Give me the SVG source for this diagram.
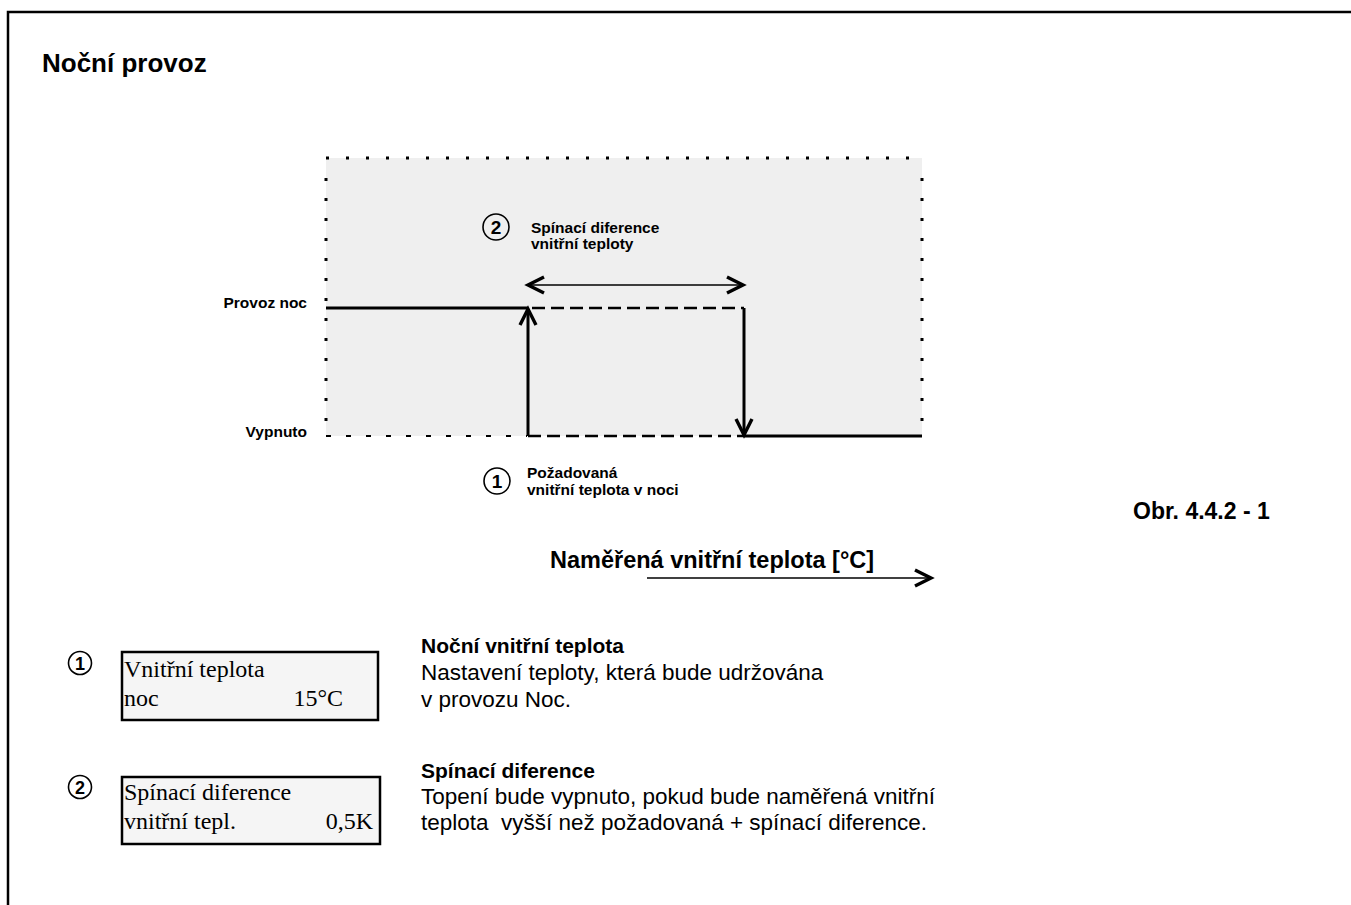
<svg xmlns="http://www.w3.org/2000/svg" width="1351" height="905" viewBox="0 0 1351 905">
  <style>
    .sans { font-family: "Liberation Sans", Arial, sans-serif; fill: #000; }
    .bold { font-weight: bold; }
    .serif { font-family: "Liberation Serif", "Times New Roman", serif; font-size: 24px; fill: #000; }
    .lbl { font-size: 15.5px; }
    .head { font-size: 21px; }
    .desc { font-size: 22.5px; }
    .num { font-family: "Liberation Sans", Arial, sans-serif; font-weight: bold; text-anchor: middle; fill: #000; }
    .ring { fill: none; stroke: #000; stroke-width: 1.6; }
    .dots { stroke: #000; stroke-width: 3; stroke-dasharray: 3 17; fill: none; }
    .box { fill: #f5f5f5; stroke: #000; stroke-width: 2.5; }
    .solid { stroke: #000; stroke-width: 3; fill: none; }
    .dash { stroke: #000; stroke-width: 2.5; stroke-dasharray: 13 6; fill: none; }
    .thin { stroke: #000; stroke-width: 1.5; fill: none; }
  </style>
  <defs>
    <marker id="head" markerUnits="userSpaceOnUse" viewBox="-22 -12 26 24" refX="0" refY="0" markerWidth="26" markerHeight="24" orient="auto-start-reverse">
      <path d="M-16,-8 L0,0 L-16,8" fill="none" stroke="#000" stroke-width="3.4"/>
    </marker>
  </defs>

  <!-- page frame -->
  <path d="M8,905 V12 H1351" fill="none" stroke="#000" stroke-width="2.5"/>

  <text class="sans bold" x="42" y="72" font-size="26">Noční provoz</text>

  <!-- switching chart -->
  <g id="chart">
    <rect x="326" y="158" width="596" height="278" fill="#efefef"/>
    <path class="dots" d="M326,158 H924"/>
    <path class="dots" d="M326,178 V436"/>
    <path class="dots" d="M922,178 V436"/>
    <path d="M326,436 H527" stroke="#000" stroke-width="2" stroke-dasharray="5 15" fill="none"/>
  </g>

  <g id="axis-labels">
    <text class="sans bold lbl" x="307" y="308" text-anchor="end">Provoz noc</text>
    <text class="sans bold lbl" x="307" y="437" text-anchor="end">Vypnuto</text>
  </g>

  <g id="connectors">
    <path class="solid" d="M326,308 H528"/>
    <path class="dash" d="M532,308 H744"/>
    <path class="dash" d="M528,436 H744"/>
    <path class="solid" d="M744,436 H922"/>
    <path class="solid" d="M528,436 V309" marker-end="url(#head)"/>
    <path class="solid" d="M744,308 V435" marker-end="url(#head)"/>
    <path class="thin" d="M528,285 H743" marker-start="url(#head)" marker-end="url(#head)"/>
    <path class="thin" d="M647,578 H931" marker-end="url(#head)"/>
  </g>

  <g id="label-hysteresis">
    <circle class="ring" cx="496" cy="227" r="13"/>
    <text class="num" x="496" y="234" font-size="19">2</text>
    <text class="sans bold lbl" x="531" y="233">Spínací diference</text>
    <text class="sans bold lbl" x="531" y="249">vnitřní teploty</text>
  </g>

  <g id="label-setpoint">
    <circle class="ring" cx="497" cy="481" r="13"/>
    <text class="num" x="497" y="488" font-size="19">1</text>
    <text class="sans bold lbl" x="527" y="478">Požadovaná</text>
    <text class="sans bold lbl" x="527" y="495">vnitřní teplota v noci</text>
  </g>

  <text id="fig-no" class="sans bold" x="1133" y="519" font-size="23">Obr. 4.4.2 - 1</text>
  <text id="x-axis" class="sans bold" x="550" y="568" font-size="23.5">Naměřená vnitřní teplota [°C]</text>

  <!-- display parameter 1 -->
  <g id="param-1">
    <circle class="ring" cx="80" cy="663" r="11.5"/>
    <text class="num" x="80" y="669.5" font-size="18">1</text>
    <rect class="box" x="122" y="652" width="256" height="68"/>
    <text class="serif" x="124" y="677">Vnitřní teplota</text>
    <text class="serif" x="124" y="706">noc</text>
    <text class="serif" x="343" y="706" text-anchor="end">15°C</text>
  </g>

  <!-- display parameter 2 -->
  <g id="param-2">
    <circle class="ring" cx="80" cy="787" r="11.5"/>
    <text class="num" x="80" y="793.5" font-size="18">2</text>
    <rect class="box" x="122" y="777" width="258" height="67"/>
    <text class="serif" x="124" y="800">Spínací diference</text>
    <text class="serif" x="124" y="829">vnitřní tepl.</text>
    <text class="serif" x="373" y="829" text-anchor="end">0,5K</text>
  </g>

  <g id="desc-1">
    <text class="sans bold head" x="421" y="653">Noční vnitřní teplota</text>
    <text class="sans desc" x="421" y="680">Nastavení teploty, která bude udržována</text>
    <text class="sans desc" x="421" y="707">v provozu Noc.</text>
  </g>

  <g id="desc-2">
    <text class="sans bold head" x="421" y="778">Spínací diference</text>
    <text class="sans desc" x="421" y="804">Topení bude vypnuto, pokud bude naměřená vnitřní</text>
    <text class="sans desc" x="421" y="830" xml:space="preserve">teplota  vyšší než požadovaná + spínací diference.</text>
  </g>
</svg>
